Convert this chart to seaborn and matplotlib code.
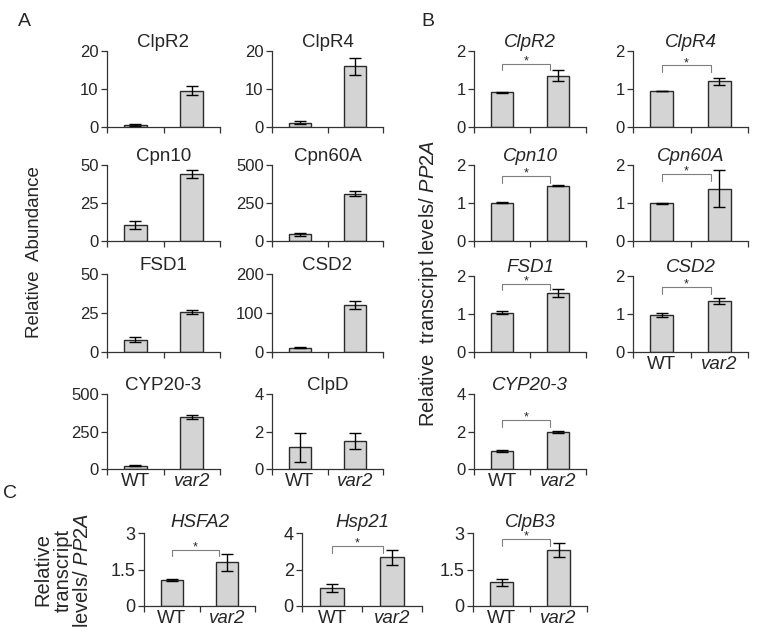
import matplotlib
matplotlib.use("Agg")
import matplotlib.pyplot as plt
import seaborn as sns
import pandas as pd

sns.set_style("ticks")
plt.rcParams['font.family'] = ['Liberation Sans', 'DejaVu Sans']
plt.rcParams['mathtext.fontset'] = 'custom'
plt.rcParams['mathtext.it'] = 'Liberation Sans:italic'
plt.rcParams['mathtext.rm'] = 'Liberation Sans'

genotypes = ["WT", "var2"]

# Panel A: relative protein abundance
A_genes = ["ClpR2", "ClpR4", "Cpn10", "Cpn60A", "FSD1", "CSD2", "CYP20-3", "ClpD"]
A_wt = [0.5, 1.1, 10.4, 44, 7.8, 11, 22, 1.17]
A_wt_err = [0.2, 0.4, 2.7, 11, 1.7, 0.6, 3, 0.77]
A_var2 = [9.6, 16.0, 44.2, 311, 25.6, 121, 346, 1.49]
A_var2_err = [1.1, 2.2, 2.6, 17, 1.1, 11, 15, 0.42]
A_ymax = [20, 20, 50, 500, 50, 200, 500, 4]

# Panel B: relative transcript levels
B_genes = ["ClpR2", "ClpR4", "Cpn10", "Cpn60A", "FSD1", "CSD2", "CYP20-3"]
B_wt = [0.91, 0.95, 1.01, 0.99, 1.03, 0.97, 0.96]
B_wt_err = [0.01, 0.01, 0.02, 0.005, 0.04, 0.05, 0.03]
B_var2 = [1.35, 1.20, 1.46, 1.38, 1.56, 1.35, 1.98]
B_var2_err = [0.15, 0.10, 0.02, 0.48, 0.10, 0.08, 0.04]
B_ymax = [2, 2, 2, 2, 2, 2, 4]
B_bracket = [1.67, 1.62, 1.71, 1.77, 1.80, 1.70, 2.62]

# Panel C: heat-stress genes
C_genes = ["HSFA2", "Hsp21", "ClpB3"]
C_wt = [1.06, 0.98, 0.97]
C_wt_err = [0.03, 0.21, 0.15]
C_var2 = [1.79, 2.66, 2.29]
C_var2_err = [0.34, 0.42, 0.28]
C_ymax = [3, 4, 3]
C_yticklabels = [["0", "1.5", "3"], ["0", "2", "4"], ["0", "1.5", "3"]]
C_bracket = [2.31, 3.27, 2.74]

W, H = 757, 641
fig = plt.figure(figsize=(W / 100, H / 100), dpi=100)

def add_ax(x0, x1, ytop, ybot):
    return fig.add_axes([x0 / W, 1 - ybot / H, (x1 - x0) / W, (ybot - ytop) / H])

BAR = "#d4d4d4"
EDGE = "#2b2b2b"

def draw(ax, title, wt, wterr, v2, v2err, ymax, italic, xlabels,
         yticklabels=None, bracket=None, ysize=12, tpad=2):
    df = pd.DataFrame({"genotype": genotypes, "value": [wt, v2]})
    sns.barplot(data=df, x="genotype", y="value", ax=ax, color=BAR,
                saturation=1, edgecolor=EDGE, linewidth=1.0, width=0.4,
                errorbar=None)
    ax.errorbar([0, 1], [wt, v2], yerr=[wterr, v2err], fmt="none",
                ecolor="black", elinewidth=1.0, capsize=4, capthick=1.0)
    ax.set_xlim(-0.5, 1.5)
    ax.set_ylim(0, ymax)
    ax.set_yticks([0, ymax / 2, ymax])
    if yticklabels is None:
        yticklabels = [f"{v:g}" for v in [0, ymax / 2, ymax]]
    ax.set_yticklabels(yticklabels)
    ax.set_xticks([-0.5, 0.5, 1.5], minor=True)
    ax.set_xticks([0, 1])
    ax.tick_params(axis="x", which="major", length=0, pad=3, labelsize=13.5)
    ax.tick_params(axis="x", which="minor", length=4, width=0.9, color="#333333")
    ax.tick_params(axis="y", length=4, width=0.9, pad=2, labelsize=ysize,
                   color="#333333")
    if xlabels:
        ax.set_xticklabels(genotypes)
        ax.get_xticklabels()[1].set_style("italic")
    else:
        ax.set_xticklabels(["", ""])
    ax.set_xlabel("")
    ax.set_ylabel("")
    for s in ["top", "right"]:
        ax.spines[s].set_visible(False)
    for s in ["left", "bottom"]:
        ax.spines[s].set_linewidth(0.9)
        ax.spines[s].set_color("#333333")
    ax.set_title(title, fontsize=13.5, pad=tpad,
                 style="italic" if italic else "normal")
    if bracket is not None:
        drop = 0.09 * ymax
        ax.plot([0.0, 0.0, 0.85, 0.85],
                [bracket - drop, bracket, bracket, bracket - drop],
                color="#7f7f7f", lw=0.8, clip_on=False)
        ax.annotate("*", (0.425, bracket), xytext=(0, 1.8),
                    textcoords="offset points", ha="center", va="center",
                    fontsize=9)

# Panel A layout
A_cols = [(107, 220), (272, 383)]
A_rows = [(51, 127), (165, 241), (274, 352), (394, 469)]
for i, g in enumerate(A_genes):
    r, c = divmod(i, 2)
    ax = add_ax(A_cols[c][0], A_cols[c][1], A_rows[r][0], A_rows[r][1])
    draw(ax, g, A_wt[i], A_wt_err[i], A_var2[i], A_var2_err[i], A_ymax[i],
         False, r == 3)

# Panel B layout
B_cols = [(474, 586), (633, 748)]
B_rows = [(51, 127), (165, 241), (276, 352), (394, 469)]
for i, g in enumerate(B_genes):
    r, c = divmod(i, 2)
    ax = add_ax(B_cols[c][0], B_cols[c][1], B_rows[r][0], B_rows[r][1])
    draw(ax, g, B_wt[i], B_wt_err[i], B_var2[i], B_var2_err[i], B_ymax[i],
         True, (r == 3) or (r == 2 and c == 1), bracket=B_bracket[i])

# Panel C layout
C_cols = [(144, 255), (302, 422), (473, 587)]
for i, g in enumerate(C_genes):
    ax = add_ax(C_cols[i][0], C_cols[i][1], 533, 606)
    draw(ax, g, C_wt[i], C_wt_err[i], C_var2[i], C_var2_err[i], C_ymax[i],
         True, True, yticklabels=C_yticklabels[i], bracket=C_bracket[i],
         ysize=13, tpad=4)

# Labels
fig.text(24 / W, 1 - 22 / H, "A", fontsize=14, ha="center", va="center")
fig.text(428 / W, 1 - 21 / H, "B", fontsize=14, ha="center", va="center")
fig.text(10 / W, 1 - 494 / H, "C", fontsize=14, ha="center", va="center")

fig.text(35 / W, 1 - 252 / H, "Relative  Abundance", fontsize=13.5,
         rotation=90, ha="center", va="center")
fig.text(428 / W, 1 - 283 / H, r"Relative  transcript levels/ $\mathit{PP2A}$",
         fontsize=14.5, rotation=90, ha="center", va="center")
fig.text(63 / W, 1 - 570 / H, "Relative\ntranscript\n" + r"levels/ $\mathit{PP2A}$",
         fontsize=14.5, rotation=90, ha="center", va="center",
         multialignment="center", linespacing=1.05)

fig.savefig("out.png", dpi=100)
